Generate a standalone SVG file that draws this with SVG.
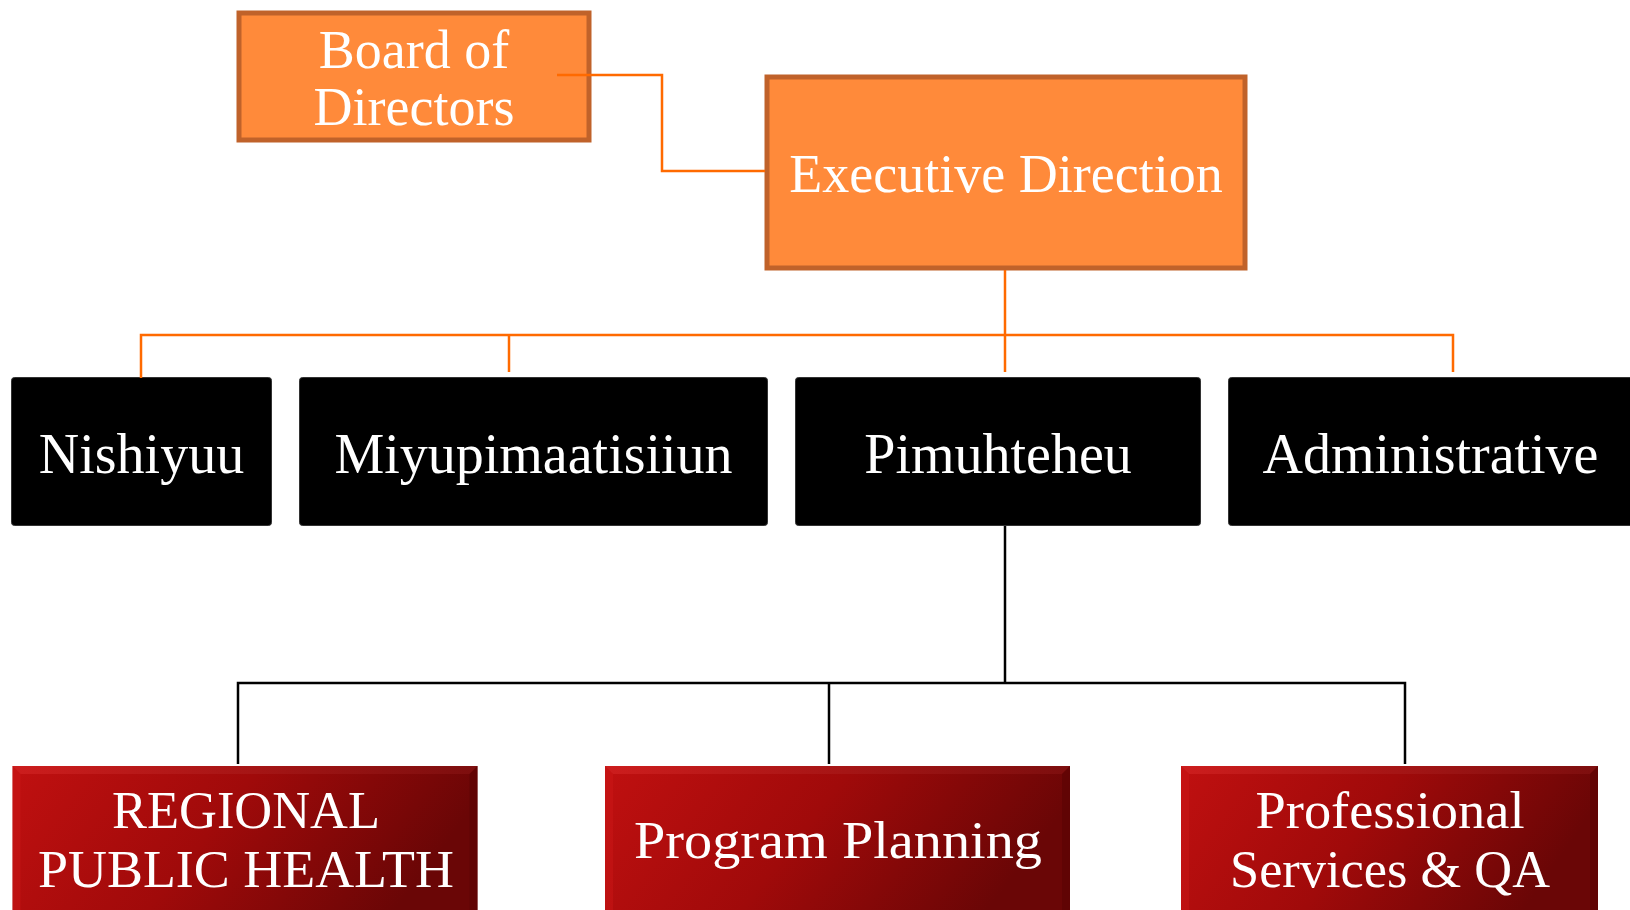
<svg xmlns="http://www.w3.org/2000/svg" width="1630" height="910" viewBox="0 0 1630 910">
<defs>
<linearGradient id="redG" x1="0" y1="0" x2="1" y2="0.25">
<stop offset="0" stop-color="#C01010"/>
<stop offset="0.5" stop-color="#A00A0A"/>
<stop offset="1" stop-color="#6A0606"/>
</linearGradient>
<linearGradient id="topBevel" x1="0" y1="0" x2="1" y2="0">
<stop offset="0" stop-color="#D02020"/>
<stop offset="1" stop-color="#801010"/>
</linearGradient>
<style>
.orange{fill:#FF8A3A;stroke:#C0622A;stroke-width:5}
.dark{fill:#000;stroke:#333;stroke-width:1}
.red{fill:url(#redG)}
.wt{fill:#fff;font-family:"Liberation Serif","DejaVu Serif",serif;text-anchor:middle}
.f54{font-size:54px}
.f56{font-size:56px}
.f53{font-size:53px}
.oc{fill:none;stroke:#FF6A00;stroke-width:2.5}
.bc{fill:none;stroke:#000;stroke-width:2.5}
</style>
</defs>
<g id="board">
<rect class="orange" x="239" y="13" width="350" height="127"/>
<text class="wt f54" x="414" y="68">Board of</text>
<text class="wt f54" x="414" y="125">Directors</text>
</g>
<g id="executive">
<rect class="orange" x="767" y="77" width="478" height="191"/>
<text class="wt f54" x="1006" y="192">Executive Direction</text>
</g>
<g id="nishiyuu">
<rect class="dark" x="11.5" y="377.5" width="260" height="148" rx="3"/>
<text class="wt f56" x="141.5" y="473">Nishiyuu</text>
</g>
<g id="miyupimaatisiiun">
<rect class="dark" x="299.5" y="377.5" width="468" height="148" rx="3"/>
<text class="wt f56" x="533.5" y="473">Miyupimaatisiiun</text>
</g>
<g id="pimuhteheu">
<rect class="dark" x="795.5" y="377.5" width="405" height="148" rx="3"/>
<text class="wt f56" x="998" y="473">Pimuhteheu</text>
</g>
<g id="administrative">
<rect class="dark" x="1228.5" y="377.5" width="410" height="148" rx="3"/>
<text class="wt f56" x="1430.5" y="473">Administrative</text>
</g>
<g id="regional">
<rect class="red" x="12.5" y="766" width="465" height="150"/>
<polygon points="12.5,766 477.5,766 469.5,774 20.5,774" fill="url(#topBevel)" opacity="0.8"/>
<polygon points="477.5,766 477.5,916 469.5,916 469.5,774" fill="#5A0404" opacity="0.6"/>
<polygon points="12.5,766 20.5,774 20.5,916 12.5,916" fill="#D01818" opacity="0.4"/>
<text class="wt f53" x="246" y="828" textLength="268" lengthAdjust="spacingAndGlyphs">REGIONAL</text>
<text class="wt f53" x="246" y="887" textLength="416" lengthAdjust="spacingAndGlyphs">PUBLIC HEALTH</text>
</g>
<g id="program">
<rect class="red" x="605" y="766" width="465" height="150"/>
<polygon points="605,766 1070,766 1062,774 613,774" fill="url(#topBevel)" opacity="0.8"/>
<polygon points="1070,766 1070,916 1062,916 1062,774" fill="#5A0404" opacity="0.6"/>
<polygon points="605,766 613,774 613,916 605,916" fill="#D01818" opacity="0.4"/>
<text class="wt f53" x="838" y="858" textLength="408" lengthAdjust="spacingAndGlyphs">Program Planning</text>
</g>
<g id="professional">
<rect class="red" x="1181" y="766" width="417" height="150"/>
<polygon points="1181,766 1598,766 1590,774 1189,774" fill="url(#topBevel)" opacity="0.8"/>
<polygon points="1598,766 1598,916 1590,916 1590,774" fill="#5A0404" opacity="0.6"/>
<polygon points="1181,766 1189,774 1189,916 1181,916" fill="#D01818" opacity="0.4"/>
<text class="wt f53" x="1390" y="828" textLength="269" lengthAdjust="spacingAndGlyphs">Professional</text>
<text class="wt f53" x="1390" y="887" textLength="320" lengthAdjust="spacingAndGlyphs">Services &amp; QA</text>
</g>
<g id="connectors">
<polyline class="oc" points="557,75 662,75 662,171 765,171"/>
<polyline class="oc" points="1005,270 1005,372"/>
<polyline class="oc" points="141,378 141,335 1453,335 1453,372"/>
<polyline class="oc" points="509,335 509,372"/>
<polyline class="bc" points="1005,526 1005,683"/>
<polyline class="bc" points="238,764 238,683 1405,683 1405,764"/>
<polyline class="bc" points="829,683 829,764"/>
</g>
</svg>
